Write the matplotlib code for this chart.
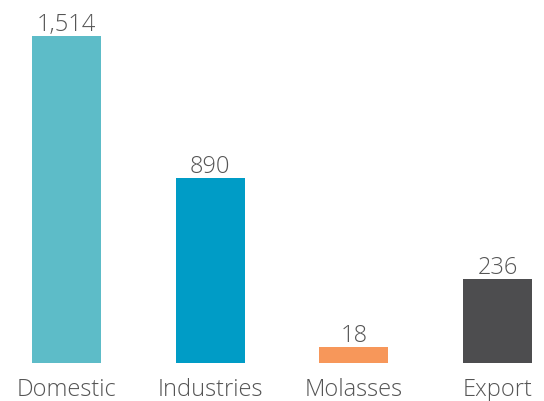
import matplotlib
matplotlib.use('Agg')
import matplotlib.pyplot as plt

#============================================================================#
categories = ['Domestic', 'Industries', 'Molasses', 'Export']
values = [1514, 890, 18, 236]            # printed labels
bar_len = [1514, 857, 74, 389]           # bar lengths as drawn in the picture
colors = ['#5DBCC8', '#009CC6', '#F7975A', '#4D4D4F']
text_col = '#555555'
#============================================================================#

plt.rcParams['font.family'] = ['Open Sans', 'DejaVu Sans']

fig = plt.figure(figsize=(5.44, 4.01), dpi=100)
ax = fig.add_axes([0, 38.3 / 401, 1, 1 - 38.3 / 401])

x = list(range(len(categories)))
ax.bar(x, bar_len, width=0.48, color=colors)

for i in x:
    ax.annotate('{:,}'.format(values[i]), xy=(i, bar_len[i]), xytext=(0, 3.6),
                textcoords='offset points', ha='center', va='baseline',
                fontsize=17, fontweight='light', color=text_col)
    ax.annotate(categories[i], xy=(i, 0), xytext=(0, -23.8),
                textcoords='offset points', ha='center', va='baseline',
                fontsize=17, fontweight='light', color=text_col,
                annotation_clip=False)

ax.set_xlim(-0.4629, 3.3236)
ax.set_ylim(0, 1679)
ax.axis('off')

fig.savefig('out.png', dpi=100)
plt.close()
